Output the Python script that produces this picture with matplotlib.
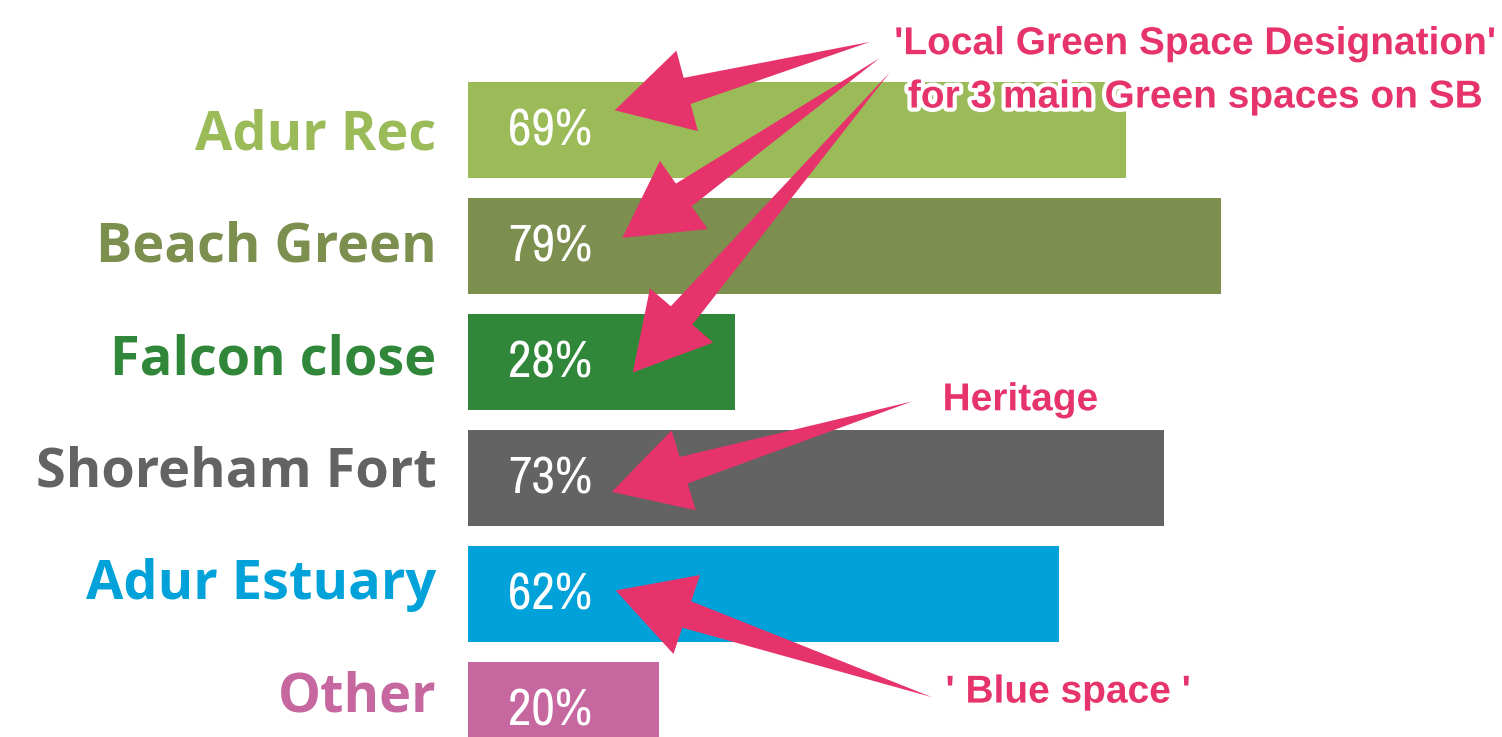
import matplotlib
matplotlib.use("Agg")
import matplotlib.pyplot as plt
import matplotlib.patheffects as pe
from matplotlib import font_manager
import numpy as np

# data
places = ["Adur Rec", "Beach Green", "Falcon close", "Shoreham Fort", "Adur Estuary", "Other"]
percents = [69, 79, 28, 73, 62, 20]
colors = ["#9BBB59", "#7C8F4E", "#30873A", "#636363", "#00A2D9", "#C767A0"]

pink = "#E6336B"

# pick a narrow face for the percentages if one is around
fonts = font_manager.fontManager.ttflist
narrow = None
for f in fonts:
    if "Narrow" in f.name or "Condensed" in f.name:
        narrow = dict(family=f.name)
        break
if narrow is None:
    narrow = dict(family="Roboto", weight="light")

fig = plt.figure(figsize=(15.02, 7.37), dpi=100)
ax = fig.add_axes([0, 0, 1, 1])
ax.set_xlim(-49.1, 108.5)
ax.set_ylim(5.233, -1.121)
ax.axis("off")

ypos = list(range(len(places)))
ax.barh(ypos, percents, height=0.82, color=colors)

for y, name, p, c in zip(ypos, places, percents, colors):
    # the label column sits a touch tighter than the bars
    ax.text(-3.3, y * 0.97 + 0.045, name, ha="right", va="center", color=c,
            fontsize=39, fontweight="bold", family=["Open Sans", "DejaVu Sans"])
    ax.text(4.2, y + 0.01, f"{p}%", ha="left", va="center", color="white",
            fontsize=37, **narrow)

# annotations
txt_fx = [pe.withSimplePatchShadow(offset=(1.5, -2.5), shadow_rgbFace="#777777", alpha=0.5),
          pe.Stroke(linewidth=6, foreground="white"), pe.Normal()]

afont = dict(color=pink, fontsize=28, fontweight="bold", zorder=5,
             family=["Liberation Sans", "DejaVu Sans"])
ax.text(76.3, -0.74, "'Local Green Space Designation'", ha="center", va="center",
        path_effects=txt_fx, **afont)
ax.text(76.3, -0.28, "for 3 main Green spaces on SB", ha="center", va="center",
        path_effects=txt_fx, **afont)
ax.text(49.8, 2.33, "Heritage", ha="left", va="center", path_effects=txt_fx, **afont)
ax.text(50.1, 4.85, "' Blue space '", ha="left", va="center", path_effects=txt_fx, **afont)

arrows = [
    ((15.4, -0.17), (42.2, -0.76)),
    ((16.2, 0.93), (43.2, -0.62)),
    ((17.3, 2.09), (44.3, -0.50)),
    ((15.1, 3.12), (46.6, 2.34)),
    ((15.5, 3.97), (48.7, 4.89)),
]


def along(tip, tail, dist_px):
    # point dist_px pixels back from the tip toward the tail
    a = ax.transData.transform(tip)
    b = ax.transData.transform(tail)
    u = (b - a) / np.hypot(*(b - a))
    return tuple(ax.transData.inverted().transform(a + u * dist_px))


for tip, tail in arrows:
    # tapered shaft: wide near the head, thin at the tail
    ax.annotate("", xy=tail, xytext=along(tip, tail, 50),
                arrowprops=dict(arrowstyle="wedge,tail_width=0.55,shrink_factor=0.5",
                                fc=pink, ec="none", lw=0, shrinkA=0, shrinkB=0,
                                mutation_scale=40))
    # head
    ax.annotate("", xy=tip, xytext=along(tip, tail, 85),
                arrowprops=dict(arrowstyle="simple,head_length=1.35,head_width=1.5,tail_width=0.3",
                                fc=pink, ec="none", lw=0, shrinkA=0, shrinkB=0,
                                mutation_scale=40))

fig.savefig("out.png", dpi=100)
